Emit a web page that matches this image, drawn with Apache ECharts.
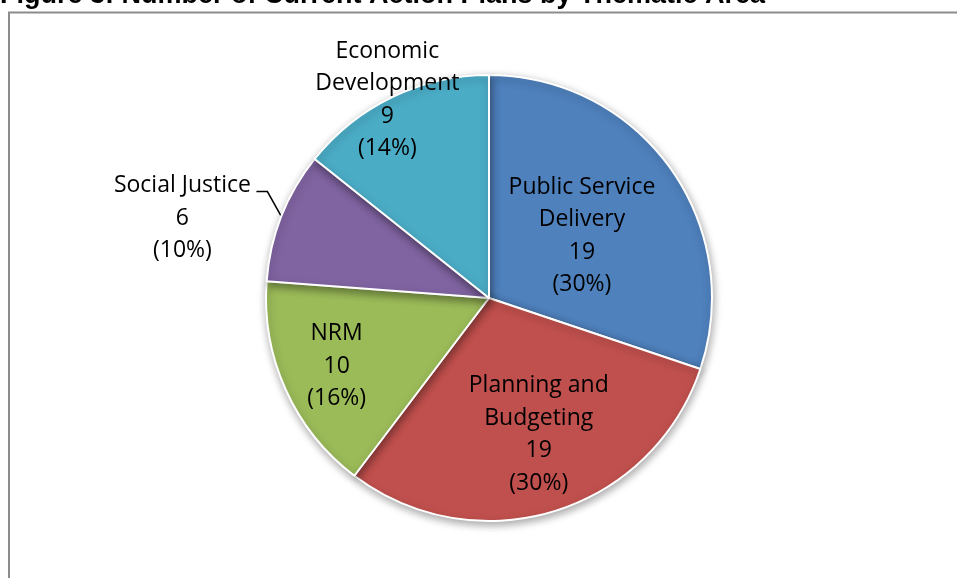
<!DOCTYPE html>
<html>
<head>
<meta charset="utf-8">
<script src="https://cdn.jsdelivr.net/npm/echarts@6/dist/echarts.min.js"></script>
<style>
html,body{margin:0;padding:0;background:#fff;}
#chart{width:957px;height:578px;}
</style>
</head>
<body>
<div id="chart"></div>
<script>
// ---- Data ----
var categories = ['Public Service Delivery', 'Planning and Budgeting', 'NRM', 'Social Justice', 'Economic Development'];
var labelNames = ['Public Service\nDelivery', 'Planning and\nBudgeting', 'NRM', 'Social Justice', 'Economic\nDevelopment'];
var values = [19, 19, 10, 6, 9];
var colors = ['#4F81BD', '#C0504D', '#9BBB59', '#8064A2', '#4BACC6'];
var titleText = 'Figure 3: Number of Current Action Plans by Thematic Area';

// label nudges (styling only)
var labelShift = [[0, 5], [16, 27], [-48, 21], null, [-52, -95]];

var chart = echarts.init(document.getElementById('chart'), null, {renderer: 'canvas'});

var data = categories.map(function (c, i) {
  var d = {name: c, value: values[i], itemStyle: {color: colors[i]}};
  if (i === 3) {
    d.label = {position: 'outside'};
    d.labelLine = {show: true, length: 10, length2: 10, lineStyle: {color: '#000', width: 1.5}};
  }
  return d;
});

chart.setOption({
  animation: false,
  graphic: [
    {
      type: 'rect', silent: true, z: 0,
      shape: {x: 9, y: 12.5, width: 1000, height: 700},
      style: {fill: 'none', stroke: '#8c8c8c', lineWidth: 2}
    },
    {
      type: 'text', z: 10, left: 0, top: -18,
      style: {text: titleText, font: 'bold 27px "Liberation Sans", Arial, sans-serif', fill: '#000'}
    }
  ],
  series: [{
    type: 'pie',
    center: [489, 298],
    radius: [0, 223],
    startAngle: 90,
    clockwise: true,
    avoidLabelOverlap: false,
    itemStyle: {
      borderColor: '#fff', borderWidth: 2,
      shadowBlur: 8, shadowColor: 'rgba(0,0,0,0.35)', shadowOffsetX: 1, shadowOffsetY: 3
    },
    label: {
      show: true,
      position: 'inside',
      color: '#000',
      fontFamily: '"Open Sans", Lato, sans-serif',
      fontSize: 23,
      lineHeight: 32.5,
      align: 'center',
      formatter: function (p) {
        return labelNames[p.dataIndex] + '\n' + p.value + '\n(' + Math.round(p.percent) + '%)';
      }
    },
    labelLine: {show: false},
    labelLayout: function (p) {
      var i = p.dataIndex;
      if (i === 3 && p.labelLinePoints) {
        var p0 = p.labelLinePoints[0];
        return {
          x: p0[0] - 99, y: p0[1] - 47,
          align: 'center', verticalAlign: 'top',
          labelLinePoints: [p0, [p0[0] - 14, p0[1] - 25], [p0[0] - 25, p0[1] - 25]]
        };
      }
      var s = labelShift[i];
      return s ? {dx: s[0], dy: s[1]} : {};
    },
    data: data
  }]
});
</script>
</body>
</html>
